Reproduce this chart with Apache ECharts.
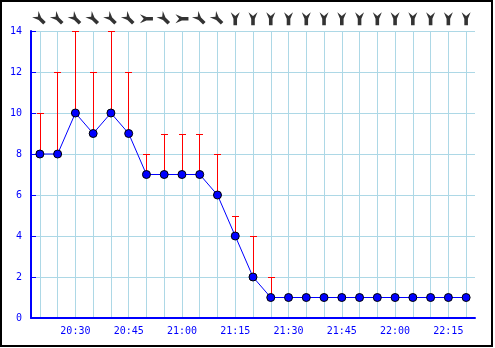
<!DOCTYPE html>
<html>
<head>
<meta charset="utf-8">
<script src="https://cdn.jsdelivr.net/npm/echarts@6/dist/echarts.min.js"></script>
<style>
html,body{margin:0;padding:0;background:#fff;}
#chart{width:495px;height:348px;}
</style>
</head>
<body>
<div id="chart"></div>
<script>
const times = ['20:20','20:25','20:30','20:35','20:40','20:45','20:50','20:55','21:00','21:05','21:10','21:15','21:20','21:25','21:30','21:35','21:40','21:45','21:50','21:55','22:00','22:05','22:10','22:15','22:20'];
const values = [8,8,10,9,10,9,7,7,7,7,6,4,2,1,1,1,1,1,1,1,1,1,1,1,1];
const maxValues = [10,12,14,12,14,12,8,9,9,9,8,5,4,2,1,1,1,1,1,1,1,1,1,1,1];
// wind direction (degrees, where the wind comes from)
const windDirs = [315,315,315,315,315,315,270,315,270,315,315,0,0,0,0,0,0,0,0,0,0,0,0,0,0];

const chart = echarts.init(document.getElementById('chart'), null, {renderer:'canvas'});
const blue = '#0000ff';
const gridColor = '#add8e6';
const font = 'DejaVu Sans Mono';
const arrowPath = 'path://M0,0 L5,4 L10,0 L7,7 L7,14 L3,14 L3,7 Z';

const errData = times.map((t,i)=>[i, values[i], maxValues[i]]);
const windData = times.map((t,i)=>({value:[i, 14.6], symbolRotate: (360 - windDirs[i]) % 360}));

chart.setOption({
  animation:false,
  backgroundColor:'#fff',
  graphic:[{type:'rect', shape:{x:1,y:1,width:491,height:345}, style:{fill:null, stroke:'#000', lineWidth:2}, z:100}],
  grid:{left:31, right:20, top:31, bottom:30},
  xAxis:{
    type:'category', data:times, boundaryGap:true,
    axisLine:{lineStyle:{color:blue, width:2}},
    axisTick:{inside:true, length:5, alignWithLabel:true, interval:0, lineStyle:{color:blue}},
    axisLabel:{interval:(i)=> i % 3 === 2, color:blue, fontFamily:font, fontSize:10, margin:8},
    splitLine:{show:true, interval:0, alignWithLabel:true, lineStyle:{color:gridColor, width:1}}
  },
  yAxis:{
    type:'value', min:0, max:14, interval:2,
    axisLine:{show:true, lineStyle:{color:blue, width:2}},
    axisTick:{show:true, inside:true, length:5, lineStyle:{color:blue}},
    axisLabel:{color:blue, fontFamily:font, fontSize:10, margin:9},
    splitLine:{show:true, lineStyle:{color:gridColor, width:1}}
  },
  series:[
    {
      type:'custom', data:errData, z:2, silent:true,
      renderItem:(params, api)=>{
        const i = api.value(0), v = api.value(1), m = api.value(2);
        if (m <= v) return null;
        const p0 = api.coord([i, v]);
        const p1 = api.coord([i, m]);
        const d = Math.round(p0[0] * 2);
        const pos = (d + 1) % 2 === 0 ? d / 2 : (d + 1) / 2;
        const x = pos - 0.5;
        const yTop = Math.round(p1[1]);
        const yBot = Math.round(p0[1]);
        const style = {fill:'#ff0000'};
        return {type:'group', children:[
          {type:'rect', shape:{x:x, y:yTop, width:1, height:yBot-yTop}, style},
          {type:'rect', shape:{x:x-3, y:yTop, width:7, height:1}, style}
        ]};
      }
    },
    {
      type:'line', data:values, z:3,
      symbol:'circle', symbolSize:8,
      lineStyle:{color:blue, width:1},
      itemStyle:{color:blue, borderColor:'#000', borderWidth:1}
    },
    {
      type:'scatter', data:windData, clip:false, z:4,
      symbol:arrowPath, symbolSize:[9,13],
      itemStyle:{color:'#000'}
    }
  ]
});
</script>
</body>
</html>
